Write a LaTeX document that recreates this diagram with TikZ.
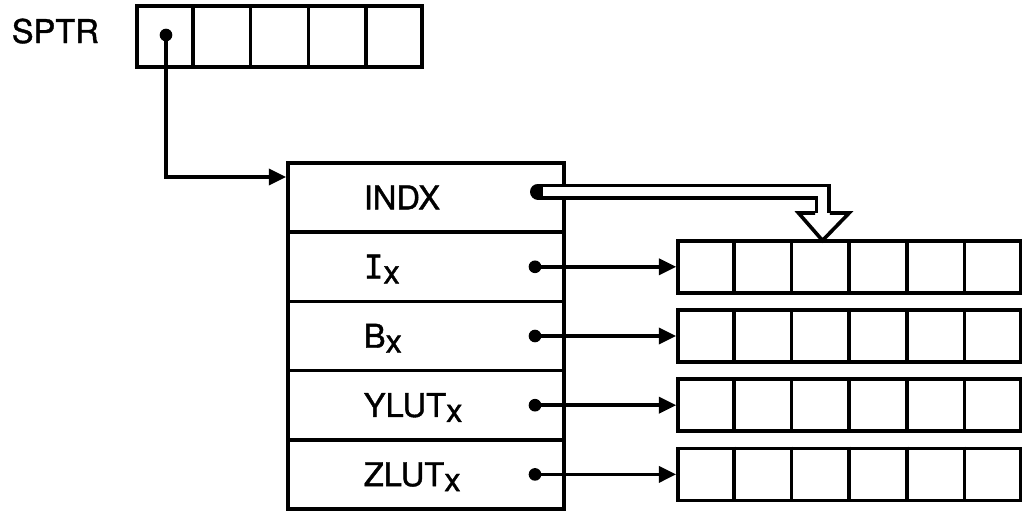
\documentclass[tikz,border=0pt]{standalone}
\usepackage{fontspec}
\setmainfont{TeX Gyre Heros}
\newfontfamily\medfont{TeX Gyre Heros}[FakeBold=1.2]
\newfontfamily\monoI{DejaVu Sans Mono}[FakeBold=1.2]
\usetikzlibrary{arrows.meta,calc}
\newcommand{\subx}{\raisebox{-3.75pt}{x}}
\begin{document}
\begin{tikzpicture}[x=0.75pt,y=-0.75pt,line width=2.7pt,
  lbl/.style={anchor=base west,inner sep=0pt,font=\fontsize{24.5}{28}\medfont},
  rowbox/.style={draw,inner sep=0pt,minimum width=207pt,minimum height=51.9pt},
  arr6/.style={draw,inner sep=0pt,minimum width=256.9pt,minimum height=39pt},
  dotnode/.style={circle,fill=black,inner sep=0pt,minimum size=9.5pt},
  ptr/.style={-{Triangle[length=13pt,width=12pt]}}]
\useasboundingbox (0,0) rectangle (1022,511);

% SPTR label and array
\node[lbl] (sptrlbl) at (10,43) {SPTR};
\node[draw,inner sep=0pt,minimum width=213.75pt,minimum height=45.75pt] (sp) at (279.5,36.5) {};
\foreach \k in {1,...,4}{
  \draw ($(sp.north west)!\k/5!(sp.north east)$) -- ($(sp.south west)!\k/5!(sp.south east)$);
}
\node[dotnode] (sdot) at (166,35) {};

% big record
\foreach \k/\t in {1/{INDX},2/{{\monoI I}\subx},3/{B\subx},4/{YLUT\subx},5/{ZLUT\subx}}{
  \node[rowbox] (r\k) at (426,{197.6+69.2*(\k-1)}) {};
  \node[lbl] (t\k) at (362,{209.3+69.2*(\k-1)}) {\t};
}

% SPTR pointer to record
\coordinate (sbend) at (166,177);
\draw[ptr] (sdot.center) -- (sbend) -- (sbend -| r1.west);

% right arrays
\foreach \k in {1,...,4}{
  \node[arr6] (a\k) at (849.25,{266.8+69.2*(\k-1)}) {};
  \foreach \j in {1,...,5}{
    \draw ($(a\k.north west)!\j/6!(a\k.north east)$) -- ($(a\k.south west)!\j/6!(a\k.south east)$);
  }
  \node[dotnode] (d\k) at (535,{266.8+69.2*(\k-1)}) {};
  \draw[ptr] (d\k.center) -- (a\k.west);
}

% INDX hollow pointer
\node[inner sep=0pt,minimum size=0pt] (d0) at (538,191.5) {};
\coordinate (hbend) at (822.5,191.5);
\coordinate (hbase) at (822.5,213);
\coordinate (tgt) at (822.5,240.5);
\draw[line width=12pt,line cap=round,miter limit=10] (d0.center) -- (hbend) -- ([yshift=-1pt]hbase);
\draw[white,line width=7pt,line cap=butt,miter limit=10] ([xshift=4pt]d0.center) -- (hbend) -- ([yshift=-3pt]hbase);
\fill[white] ([xshift=-18pt]hbase) -- ([xshift=20pt]hbase) -- (tgt) -- cycle;
\draw[line join=miter] ([xshift=-5.5pt]hbase) -- ([xshift=-18pt]hbase) -- (tgt) -- ([xshift=20pt]hbase) -- ([xshift=5.5pt]hbase);
\end{tikzpicture}
\end{document}
